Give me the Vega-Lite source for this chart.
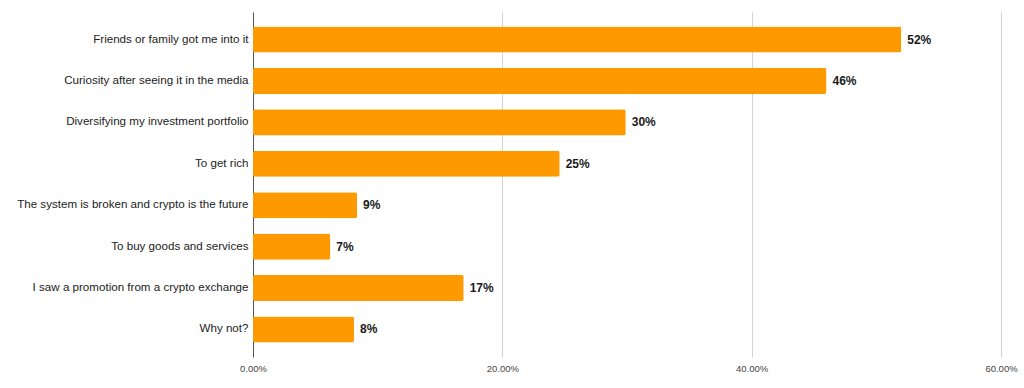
{
  "$schema": "https://vega.github.io/schema/vega-lite/v6.json",
  "autosize": "none",
  "width": 748,
  "height": 345,
  "padding": {"left": 253, "top": 12, "right": 23, "bottom": 31},
  "background": "white",
  "data": {
    "values": [
      {"reason": "Friends or family got me into it", "share": 0.52, "label": "52%"},
      {"reason": "Curiosity after seeing it in the media", "share": 0.46, "label": "46%"},
      {"reason": "Diversifying my investment portfolio", "share": 0.299, "label": "30%"},
      {"reason": "To get rich", "share": 0.246, "label": "25%"},
      {"reason": "The system is broken and crypto is the future", "share": 0.0835, "label": "9%"},
      {"reason": "To buy goods and services", "share": 0.062, "label": "7%"},
      {"reason": "I saw a promotion from a crypto exchange", "share": 0.169, "label": "17%"},
      {"reason": "Why not?", "share": 0.081, "label": "8%"}
    ]
  },
  "encoding": {
    "y": {
      "field": "reason",
      "type": "nominal",
      "sort": null,
      "title": null,
      "scale": {"paddingInner": 0.37, "paddingOuter": 0.35},
      "axis": {
        "domainColor": "#555555",
        "domainWidth": 1,
        "ticks": false,
        "labelPadding": 5,
        "labelFont": "Liberation Sans",
        "labelFontSize": 11.6,
        "labelColor": "#222222",
        "labelLimit": 300
      }
    },
    "x": {
      "field": "share",
      "type": "quantitative",
      "title": null,
      "scale": {"domain": [0, 0.6], "nice": false},
      "axis": {
        "values": [0, 0.2, 0.4, 0.6],
        "format": ".2%",
        "domain": false,
        "ticks": false,
        "grid": true,
        "gridColor": "#d3d3d3",
        "labelFlush": false,
        "labelPadding": 6,
        "labelFont": "Liberation Sans",
        "labelFontSize": 9.5,
        "labelColor": "#444444"
      }
    }
  },
  "layer": [
    {"mark": {"type": "bar", "color": "#ff9900", "cornerRadius": 2}},
    {
      "mark": {"type": "text", "align": "left", "dx": 6, "font": "Liberation Sans", "fontSize": 12, "fontWeight": "bold", "color": "#1a1a1a"},
      "encoding": {"text": {"field": "label"}}
    }
  ],
  "config": {"view": {"stroke": null}}
}
